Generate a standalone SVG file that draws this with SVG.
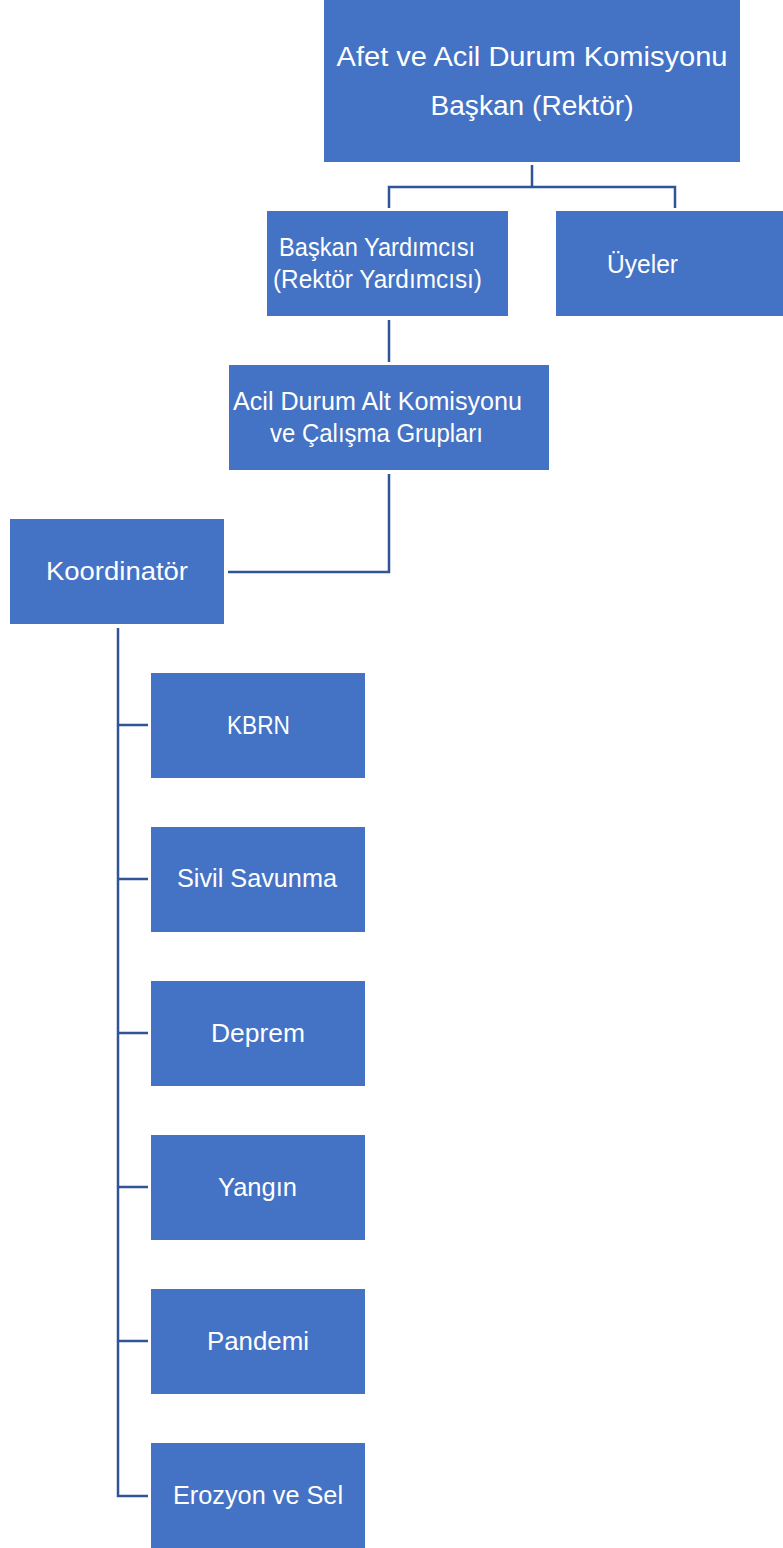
<svg xmlns="http://www.w3.org/2000/svg" width="783" height="1548" viewBox="0 0 783 1548">
<style>
.box{fill:#4472C4;}
.t{fill:#FFFFFF;font-family:"Liberation Sans",Arial,sans-serif;font-size:25px;text-anchor:middle;}
.big{font-size:27px;}
.c{fill:none;stroke:#2F5597;stroke-width:2.5;}
</style>
<rect width="783" height="1548" fill="#FFFFFF"/>
<g id="connectors">
<path class="c" d="M532,165 V187 M389,208 V187 H675 V208"/>
<path class="c" d="M389,320 V362"/>
<path class="c" d="M389,474 V572 H228"/>
<path class="c" d="M118,628 V1496 H148"/>
<path class="c" d="M118,725 H148 M118,879 H148 M118,1033 H148 M118,1187 H148 M118,1341 H148"/>
</g>
<g id="n-baskan">
<rect class="box" x="324" y="0" width="416" height="162"/>
<text class="t big" x="532" y="66" textLength="391" lengthAdjust="spacingAndGlyphs">Afet ve Acil Durum Komisyonu</text>
<text class="t big" x="532" y="115" textLength="203" lengthAdjust="spacingAndGlyphs">Başkan (Rektör)</text>
</g>
<g id="n-yardimci">
<rect class="box" x="267" y="211" width="241" height="105"/>
<text class="t" x="377" y="256" textLength="196" lengthAdjust="spacingAndGlyphs">Başkan Yardımcısı</text>
<text class="t" x="377.5" y="288" textLength="209" lengthAdjust="spacingAndGlyphs">(Rektör Yardımcısı)</text>
</g>
<g id="n-uyeler">
<rect class="box" x="556" y="211" width="227" height="105"/>
<text class="t" x="642.5" y="273" textLength="71" lengthAdjust="spacingAndGlyphs">Üyeler</text>
</g>
<g id="n-acil">
<rect class="box" x="229" y="365" width="320" height="105"/>
<text class="t" x="377.5" y="410" textLength="289" lengthAdjust="spacingAndGlyphs">Acil Durum Alt Komisyonu</text>
<text class="t" x="376.5" y="442" textLength="213" lengthAdjust="spacingAndGlyphs">ve Çalışma Grupları</text>
</g>
<g id="n-koordinator">
<rect class="box" x="10" y="519" width="214" height="105"/>
<text class="t" x="117" y="580" textLength="142" lengthAdjust="spacingAndGlyphs">Koordinatör</text>
</g>
<g id="n-kbrn">
<rect class="box" x="151" y="673" width="214" height="105"/>
<text class="t" x="258.5" y="734" textLength="63" lengthAdjust="spacingAndGlyphs">KBRN</text>
</g>
<g id="n-sivil">
<rect class="box" x="151" y="827" width="214" height="105"/>
<text class="t" x="257" y="887" textLength="160" lengthAdjust="spacingAndGlyphs">Sivil Savunma</text>
</g>
<g id="n-deprem">
<rect class="box" x="151" y="981" width="214" height="105"/>
<text class="t" x="258" y="1042" textLength="94" lengthAdjust="spacingAndGlyphs">Deprem</text>
</g>
<g id="n-yangin">
<rect class="box" x="151" y="1135" width="214" height="105"/>
<text class="t" x="257.5" y="1196" textLength="79" lengthAdjust="spacingAndGlyphs">Yangın</text>
</g>
<g id="n-pandemi">
<rect class="box" x="151" y="1289" width="214" height="105"/>
<text class="t" x="258" y="1350" textLength="102" lengthAdjust="spacingAndGlyphs">Pandemi</text>
</g>
<g id="n-erozyon">
<rect class="box" x="151" y="1443" width="214" height="105"/>
<text class="t" x="258" y="1504" textLength="170" lengthAdjust="spacingAndGlyphs">Erozyon ve Sel</text>
</g>
</svg>
